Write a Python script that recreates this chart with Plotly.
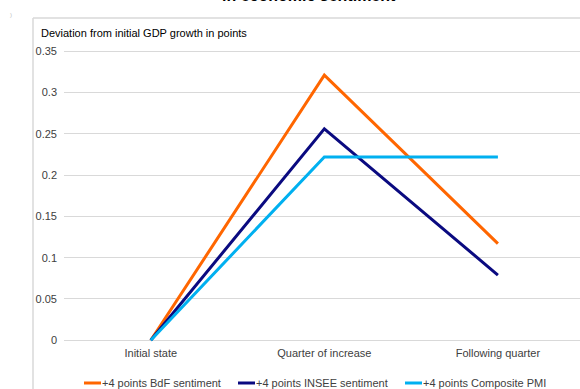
import plotly.graph_objects as go

categories = ["Initial state", "Quarter of increase", "Following quarter"]
series_names = ["+4 points BdF sentiment", "+4 points INSEE sentiment", "+4 points Composite PMI"]
bdf = [0.0, 0.321, 0.117]
insee = [0.0, 0.256, 0.079]
pmi = [0.0, 0.222, 0.222]
y_ticks = [0, 0.05, 0.1, 0.15, 0.2, 0.25, 0.3, 0.35]
y_tick_labels = ["0", "0.05", "0.1", "0.15", "0.2", "0.25", "0.3", "0.35"]
colors = ["#FF6600", "#0A0A80", "#00B0F0"]

FONT = "Arial, Liberation Sans, sans-serif"
W, H = 580, 389
L, R, T, B = 64, 0, 43, 46
PW, PH = W - L - R, H - T - B

def px(x):
    return (x - L) / PW

def py(y):
    return (H - B - y) / PH

fig = go.Figure()
for name, vals, c in zip(series_names, [bdf, insee, pmi], colors):
    fig.add_trace(go.Scatter(x=categories, y=vals, mode="lines", name=name,
                             line=dict(color=c, width=3), showlegend=False))

shapes = [
    dict(type="line", xref="paper", yref="paper", x0=px(33), x1=px(33), y0=py(18), y1=py(395),
         line=dict(color="#d9d9d9", width=1.5)),
    dict(type="line", xref="paper", yref="paper", x0=px(33), x1=px(590), y0=py(18), y1=py(18),
         line=dict(color="#d9d9d9", width=1.5)),
]
annotations = [
    dict(text="<b>in economic sentiment</b>", xref="paper", yref="paper", x=px(309), y=py(6),
         xanchor="center", yanchor="bottom", showarrow=False,
         font=dict(family=FONT, size=16, color="#000000")),
    dict(text="Deviation from initial GDP growth in points", xref="paper", yref="paper",
         x=px(39), y=py(33), xanchor="left", yanchor="middle", showarrow=False,
         font=dict(family=FONT, size=11, color="#000000")),
    dict(text=")", xref="paper", yref="paper", x=px(11), y=py(15), xanchor="center",
         yanchor="middle", showarrow=False, font=dict(family=FONT, size=6, color="#bbbbbb")),
]
leg_line_x = [84, 238, 405]
leg_y = 383
for name, c, lx in zip(series_names, colors, leg_line_x):
    shapes.append(dict(type="line", xref="paper", yref="paper", x0=px(lx), x1=px(lx + 17),
                       y0=py(leg_y), y1=py(leg_y), line=dict(color=c, width=3)))
    annotations.append(dict(text=name, xref="paper", yref="paper", x=px(lx + 16), y=py(leg_y),
                            xanchor="left", yanchor="middle", showarrow=False,
                            font=dict(family=FONT, size=11, color="#404040")))

fig.update_layout(
    width=W, height=H,
    margin=dict(l=L, r=R, t=T, b=B, pad=0),
    paper_bgcolor="white", plot_bgcolor="white",
    font=dict(family=FONT, size=11, color="#404040"),
    xaxis=dict(type="category", range=[-0.5, 2.473], showgrid=False, zeroline=False,
               showline=False, ticks="", ticklabelstandoff=2,
               tickfont=dict(size=11, color="#404040")),
    yaxis=dict(range=[-0.0033, 0.36], tickvals=y_ticks, ticktext=y_tick_labels,
               showgrid=True, gridcolor="#d9d9d9", gridwidth=1, zeroline=False,
               showline=False, ticks="", ticklabelstandoff=6,
               tickfont=dict(size=11, color="#404040")),
    shapes=shapes, annotations=annotations, showlegend=False,
)
fig.write_html("out.html")
